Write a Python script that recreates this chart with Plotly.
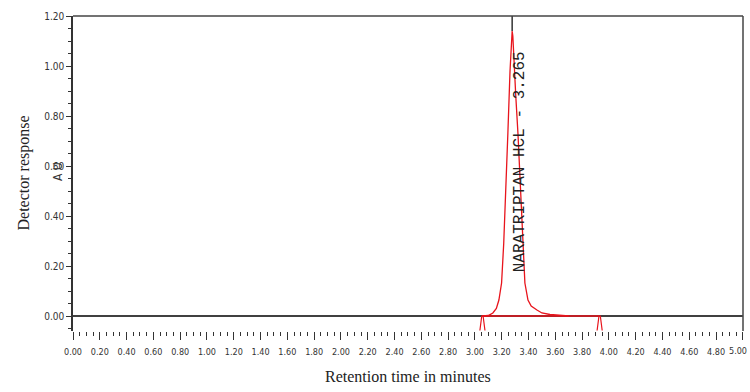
import plotly.graph_objects as go

# Data
peak_time = [3.055, 3.10, 3.134, 3.16, 3.179, 3.199, 3.215, 3.229, 3.246, 3.262, 3.272,
             3.278, 3.283, 3.29, 3.305, 3.321, 3.343, 3.36, 3.373, 3.396, 3.42, 3.463,
             3.50, 3.56, 3.62, 3.67, 3.70]
peak_signal = [0.0, 0.002, 0.012, 0.03, 0.064, 0.132, 0.29, 0.464, 0.732, 0.98, 1.10,
               1.14, 1.12, 1.02, 0.88, 0.732, 0.464, 0.25, 0.132, 0.064, 0.04, 0.024,
               0.012, 0.006, 0.004, 0.003, 0.0]
run_start, run_end = 0.0, 5.0
baseline_start, baseline_end = 3.055, 3.93
retention_time = 3.278
peak_label = "NARATRIPTAN HCL - 3.265"
x_ticks = [round(i * 0.2, 2) for i in range(26)]
x_ticktext = [f"{v:.2f}" for v in x_ticks]
y_ticks = [0.0, 0.2, 0.4, 0.6, 0.8, 1.0, 1.2]

# the last label sits at the page edge: draw it as an annotation kept inside the page
last_label = x_ticktext[-1]
x_ticktext[-1] = ""

red = "#e8141c"
fig = go.Figure()
# detector signal baseline (black)
fig.add_trace(go.Scatter(x=[run_start, run_end], y=[0, 0], mode="lines",
                         line=dict(color="black", width=1.5), hoverinfo="skip"))
# integration baseline (red)
fig.add_trace(go.Scatter(x=[baseline_start, baseline_end], y=[0, 0], mode="lines",
                         line=dict(color=red, width=1.5), hoverinfo="skip"))
# integrated peak (red)
fig.add_trace(go.Scatter(x=peak_time, y=peak_signal, mode="lines",
                         line=dict(color=red, width=1.3), hoverinfo="skip"))
# baseline start/end tick markers
for bx in (baseline_start, baseline_end):
    fig.add_trace(go.Scatter(x=[bx - 0.018, bx - 0.004, bx + 0.006, bx + 0.02],
                             y=[-0.058, 0.0, 0.0, -0.058], mode="lines",
                             line=dict(color=red, width=1.2), hoverinfo="skip"))
# retention time marker
fig.add_trace(go.Scatter(x=[retention_time, retention_time], y=[max(peak_signal), 1.2],
                         mode="lines", line=dict(color="#333333", width=1.5),
                         hoverinfo="skip"))

font_family = "Liberation Sans Narrow, DejaVu Sans Condensed, Arial Narrow"
xtickfont = dict(family=font_family, size=9, color="#333333")
ytickfont = dict(family=font_family, size=10, color="#333333")

fig.update_layout(
    width=750, height=392,
    margin=dict(l=73, r=7, t=16, b=61),
    paper_bgcolor="white", plot_bgcolor="white",
    showlegend=False,
    xaxis=dict(range=[0, 5.001], tickvals=x_ticks, ticktext=x_ticktext,
               ticks="outside", ticklen=8, tickwidth=1, tickcolor="#333333",
               minor=dict(dtick=0.05, ticks="outside", ticklen=4, tickcolor="#333333"),
               showgrid=False, zeroline=False, showline=False,
               tickfont=xtickfont, ticklabelstandoff=4, automargin=False),
    yaxis=dict(range=[-0.06, 1.2], tickvals=y_ticks, tickformat=".2f",
               ticks="outside", ticklen=5, tickwidth=1, tickcolor="#333333",
               minor=dict(dtick=0.05, ticks="outside", ticklen=3, tickcolor="#333333"),
               showgrid=False, zeroline=False, showline=True, linecolor="#333333",
               linewidth=1.5, tickfont=ytickfont),
    shapes=[
        dict(type="line", xref="paper", yref="paper", x0=0, x1=1, y0=1, y1=1,
             line=dict(color="#444444", width=1.5)),
        dict(type="line", xref="paper", yref="paper", x0=1, x1=1, y0=0, y1=1,
             line=dict(color="#444444", width=1.5)),
    ],
    annotations=[
        dict(text=last_label, xref="paper", yref="paper", x=1, y=-0.0635,
             xanchor="right", yanchor="middle", xshift=6, showarrow=False,
             font=xtickfont),
        dict(text="Retention time in minutes", xref="paper", yref="paper",
             x=0.5, y=-0.146, xanchor="center", yanchor="middle", showarrow=False,
             font=dict(family="Liberation Serif, Times New Roman", size=16, color="#222222")),
        dict(text="Detector response", xref="paper", yref="paper",
             x=-0.0746, y=0.5, xanchor="center", yanchor="middle", showarrow=False,
             textangle=-90,
             font=dict(family="Liberation Serif, Times New Roman", size=16, color="#222222")),
        dict(text="A U", xref="paper", yref="y", x=-0.0224, y=0.58,
             xanchor="center", yanchor="middle", showarrow=False, textangle=-90,
             font=dict(family="Liberation Sans Narrow, DejaVu Sans Condensed", size=12,
                       color="#333333")),
        dict(text=peak_label, xref="x", yref="y", x=3.338, y=0.616,
             xanchor="center", yanchor="middle", showarrow=False, textangle=-90,
             font=dict(family="Liberation Mono, DejaVu Sans Mono", size=16, color="#222222")),
    ],
)

fig.write_html("out.html")
